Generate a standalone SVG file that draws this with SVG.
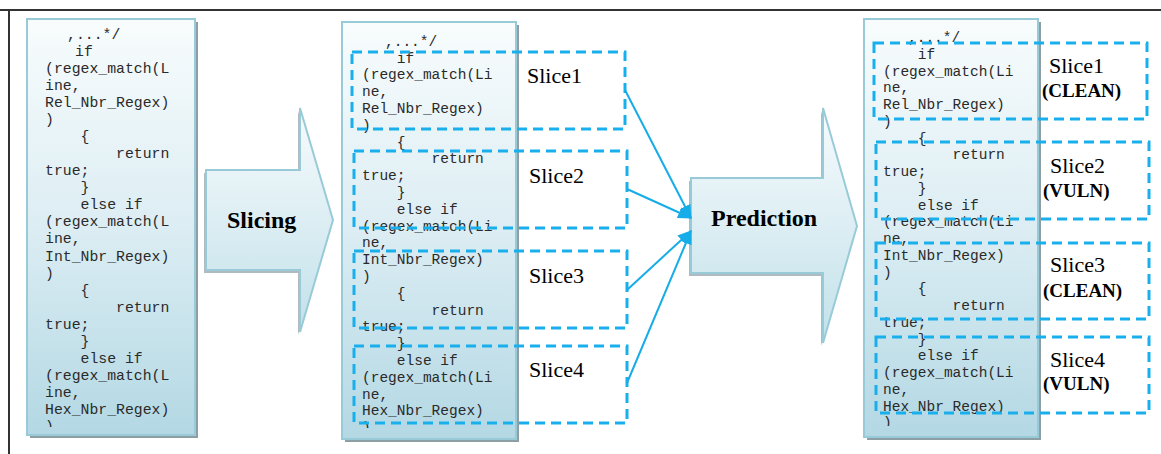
<svg xmlns="http://www.w3.org/2000/svg" width="1161" height="454" viewBox="0 0 1161 454">
  <defs>
    <linearGradient id="boxFill" x1="0" y1="0" x2="0" y2="1">
      <stop offset="0" stop-color="#f8fcfd"/>
      <stop offset="0.5" stop-color="#dcedf3"/>
      <stop offset="1" stop-color="#b3d8e4"/>
    </linearGradient>
    <linearGradient id="arrowFill" x1="0" y1="0" x2="0" y2="1">
      <stop offset="0" stop-color="#f7fbfd"/>
      <stop offset="1" stop-color="#c2e1ea"/>
    </linearGradient>
    <marker id="head" markerUnits="userSpaceOnUse" markerWidth="14" markerHeight="12" refX="13" refY="6" orient="auto">
      <path d="M0,0 L14,6 L0,12 z" fill="#16ace8"/>
    </marker>
    <clipPath id="clipL"><rect x="27" y="19" width="168" height="408"/></clipPath>
    <clipPath id="clipM"><rect x="342" y="22" width="174" height="406"/></clipPath>
    <clipPath id="clipR"><rect x="864" y="19" width="174" height="407"/></clipPath>
  </defs>
  <style>
    .frame { stroke: #333; stroke-width: 2; fill: none; }
    .shadow { fill: #8d9ea5; }
    .box { fill: url(#boxFill); stroke: #98cad8; stroke-width: 2; }
    .arrow { fill: url(#arrowFill); stroke: #98cad8; stroke-width: 2; }
    .code { font-family: "Liberation Mono", "Courier New", monospace; fill: #2a2a2a; white-space: pre; }
    .slice { fill: none; stroke: #19afec; stroke-width: 3; stroke-dasharray: 10 6; }
    .lbl { font-family: "Liberation Serif", "Times New Roman", serif; font-size: 22px; fill: #000; }
    .tag { font-family: "Liberation Serif", "Times New Roman", serif; font-size: 19px; font-weight: bold; fill: #000; }
    .step { font-family: "Liberation Serif", "Times New Roman", serif; font-size: 24px; font-weight: bold; fill: #000; }
    .link { stroke: #16ace8; stroke-width: 2; fill: none; }
  </style>

  <!-- outer frame (top and left rules) -->
  <path class="frame" d="M0,10 H1161 M9,10 V454"/>

  <!-- source code block -->
  <g id="source">
    <rect class="shadow" x="30" y="22" width="168" height="416"/>
    <rect class="box" x="27" y="19" width="168" height="416"/>
    <g class="code" font-size="14.8" clip-path="url(#clipL)">
      <text x="67" y="38.8">,...*/</text>
      <text x="75" y="55.9">if</text>
      <text x="45" y="72.9">(regex_match(L</text>
      <text x="45" y="90">ine,</text>
      <text x="45" y="107">Rel_Nbr_Regex)</text>
      <text x="45" y="124">)</text>
      <text x="80.5" y="141.1">{</text>
      <text x="116" y="158.2">return</text>
      <text x="45" y="175.2">true;</text>
      <text x="80.5" y="192.3">}</text>
      <text x="80.5" y="209.3">else if</text>
      <text x="45" y="226.4">(regex_match(L</text>
      <text x="45" y="243.4">ine,</text>
      <text x="45" y="260.5">Int_Nbr_Regex)</text>
      <text x="45" y="277.5">)</text>
      <text x="80.5" y="294.6">{</text>
      <text x="116" y="311.6">return</text>
      <text x="45" y="328.7">true;</text>
      <text x="80.5" y="345.7">}</text>
      <text x="80.5" y="362.8">else if</text>
      <text x="45" y="379.8">(regex_match(L</text>
      <text x="45" y="396.9">ine,</text>
      <text x="45" y="413.9">Hex_Nbr_Regex)</text>
      <text x="45" y="431">)</text>
    </g>
  </g>

  <!-- Slicing step -->
  <g id="slicing">
    <polygon class="shadow" opacity="0.7" points="204,173 298,173 298,111 331,223 298,335 298,273 204,273"/>
    <polygon class="arrow" points="206,170 300,170 300,108 333,220 300,332 300,270 206,270"/>
    <text class="step" x="227" y="228">Slicing</text>
  </g>

  <!-- sliced code block -->
  <g id="sliced">
    <rect class="shadow" x="345" y="25" width="174" height="417"/>
    <rect class="box" x="342" y="22" width="174" height="417"/>
    <g class="code" font-size="14.5" clip-path="url(#clipM)">
      <text x="385" y="45.8">,...*/</text>
      <text x="396.8" y="62.6">if</text>
      <text x="362" y="79.4">(regex_match(Li</text>
      <text x="362" y="96.2">ne,</text>
      <text x="362" y="113">Rel_Nbr_Regex)</text>
      <text x="362" y="129.8">)</text>
      <text x="396.8" y="146.6">{</text>
      <text x="431.6" y="163.4">return</text>
      <text x="362" y="180.2">true;</text>
      <text x="396.8" y="197">}</text>
      <text x="396.8" y="213.8">else if</text>
      <text x="362" y="230.6">(regex_match(Li</text>
      <text x="362" y="247.4">ne,</text>
      <text x="362" y="264.2">Int_Nbr_Regex)</text>
      <text x="362" y="281">)</text>
      <text x="396.8" y="297.8">{</text>
      <text x="431.6" y="314.6">return</text>
      <text x="362" y="331.4">true;</text>
      <text x="396.8" y="348.2">}</text>
      <text x="396.8" y="365">else if</text>
      <text x="362" y="381.8">(regex_match(Li</text>
      <text x="362" y="398.6">ne,</text>
      <text x="362" y="415.4">Hex_Nbr_Regex)</text>
      <text x="362" y="432.2">)</text>
    </g>
  </g>

  <g id="slice1"><rect class="slice" x="352" y="52" width="273" height="77"/><text class="lbl" x="527" y="83">Slice1</text></g>
  <g id="slice2"><rect class="slice" x="354" y="151" width="273" height="77"/><text class="lbl" x="529" y="183">Slice2</text></g>
  <g id="slice3"><rect class="slice" x="354" y="251" width="273" height="77"/><text class="lbl" x="529" y="283">Slice3</text></g>
  <g id="slice4"><rect class="slice" x="354" y="346" width="273" height="77"/><text class="lbl" x="529" y="377">Slice4</text></g>

  <!-- Prediction step -->
  <g id="prediction">
    <polygon class="shadow" opacity="0.7" points="689,181 821,181 821,111 855,229 821,346 821,276 689,276"/>
    <polygon class="arrow" points="691,178 823,178 823,108 857,226 823,343 823,273 691,273"/>
    <text class="step" x="711" y="226">Prediction</text>
  </g>

  <!-- slices feeding the predictor -->
  <g id="connectors">
    <line class="link" x1="625" y1="90" x2="691" y2="218" marker-end="url(#head)"/>
    <line class="link" x1="627" y1="189" x2="691" y2="218" marker-end="url(#head)"/>
    <line class="link" x1="627" y1="290" x2="691" y2="231" marker-end="url(#head)"/>
    <line class="link" x1="627" y1="383" x2="691" y2="231" marker-end="url(#head)"/>
  </g>

  <!-- labelled code block -->
  <g id="labelled">
    <rect class="shadow" x="867" y="22" width="174" height="418"/>
    <rect class="box" x="864" y="19" width="174" height="418"/>
    <g class="code" font-size="14.5" clip-path="url(#clipR)">
      <text x="908" y="42">,...*/</text>
      <text x="917.8" y="58.8">if</text>
      <text x="883" y="75.5">(regex_match(Li</text>
      <text x="883" y="92.3">ne,</text>
      <text x="883" y="109">Rel_Nbr_Regex)</text>
      <text x="883" y="125.8">)</text>
      <text x="917.8" y="142.5">{</text>
      <text x="952.6" y="159.3">return</text>
      <text x="883" y="176">true;</text>
      <text x="917.8" y="192.8">}</text>
      <text x="917.8" y="209.5">else if</text>
      <text x="883" y="226.3">(regex_match(Li</text>
      <text x="883" y="243">ne,</text>
      <text x="883" y="259.8">Int_Nbr_Regex)</text>
      <text x="883" y="276.5">)</text>
      <text x="917.8" y="293.3">{</text>
      <text x="952.6" y="310">return</text>
      <text x="883" y="326.8">true;</text>
      <text x="917.8" y="343.5">}</text>
      <text x="917.8" y="360.3">else if</text>
      <text x="883" y="377">(regex_match(Li</text>
      <text x="883" y="393.8">ne,</text>
      <text x="883" y="410.5">Hex_Nbr_Regex)</text>
      <text x="883" y="427.3">)</text>
    </g>
  </g>

  <g id="result1"><rect class="slice" x="874" y="43" width="273" height="76"/><text class="lbl" x="1049" y="73">Slice1</text><text class="tag" x="1042" y="97">(CLEAN)</text></g>
  <g id="result2"><rect class="slice" x="876" y="142" width="273" height="77"/><text class="lbl" x="1050" y="173">Slice2</text><text class="tag" x="1043" y="197">(VULN)</text></g>
  <g id="result3"><rect class="slice" x="876" y="243" width="273" height="76"/><text class="lbl" x="1050" y="272">Slice3</text><text class="tag" x="1043" y="297">(CLEAN)</text></g>
  <g id="result4"><rect class="slice" x="876" y="337" width="273" height="76"/><text class="lbl" x="1050" y="367">Slice4</text><text class="tag" x="1043" y="390">(VULN)</text></g>
</svg>
